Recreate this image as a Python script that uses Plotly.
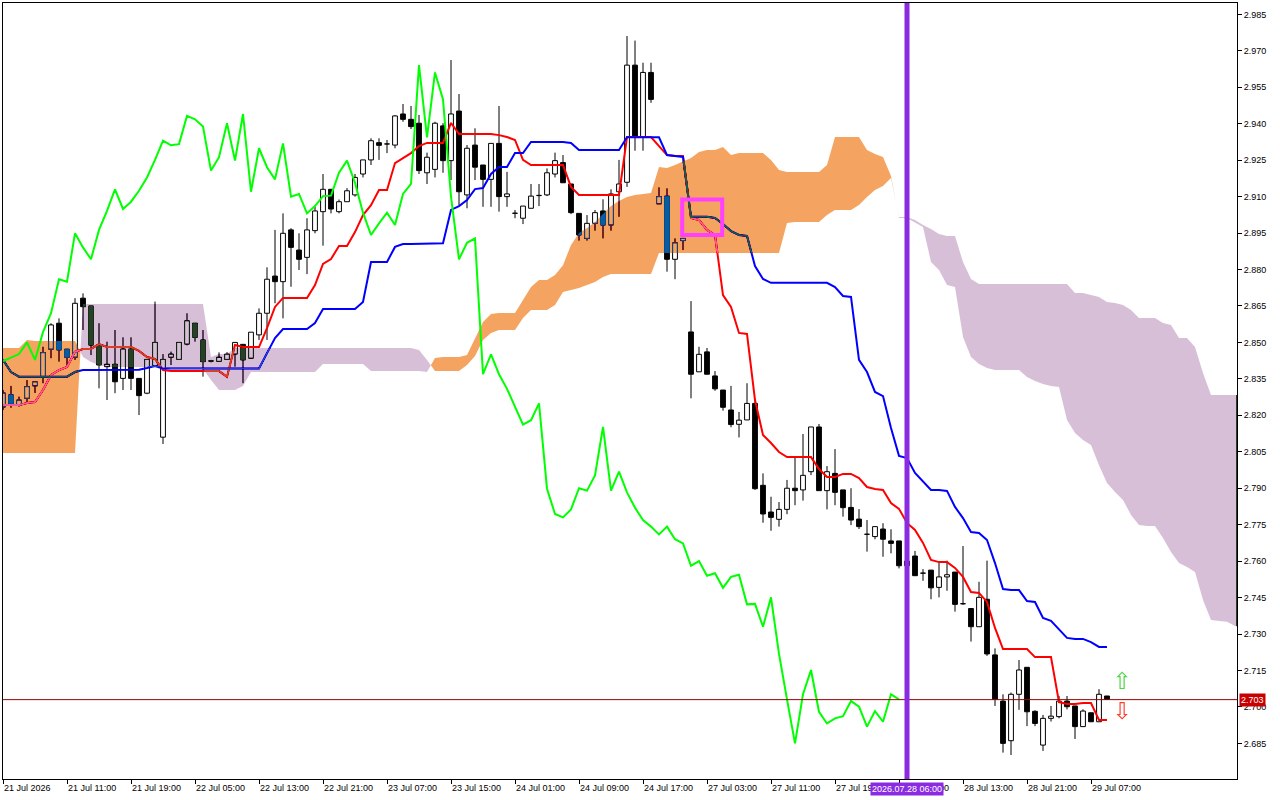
import plotly.graph_objects as go

# H1 candles, bar 0 = 21 Jul 2026 03:00 (weekend gap between bar 81 and 82)
opens = [2.8234, 2.8284, 2.8242, 2.8270, 2.8321, 2.8359, 2.8472, 2.8579, 2.8472, 2.8439,
         2.8682, 2.8650, 2.8489, 2.8400, 2.8410, 2.8352, 2.8473, 2.8352, 2.8291, 2.8403,
         2.8110, 2.8439, 2.8430, 2.8493, 2.8579, 2.8510, 2.8423, 2.8422, 2.8430, 2.8452,
         2.8492, 2.8435, 2.8531, 2.8620, 2.8773, 2.8750, 2.8963, 2.8880, 2.8850, 2.8960,
         2.9038, 2.9130, 2.9038, 2.9079, 2.9107, 2.9193, 2.9251, 2.9322, 2.9316, 2.9312,
         2.9440, 2.9418, 2.9402, 2.9198, 2.9212, 2.9391, 2.9248, 2.9452, 2.9107, 2.9312,
         2.9230, 2.9171, 2.9319, 2.9100, 2.9031, 2.9011, 2.9052, 2.9104, 2.9107, 2.9193,
         2.9240, 2.9152, 2.9031, 2.8928, 2.8990, 2.9041, 2.8983, 2.9120, 2.9159, 2.9641,
         2.9344, 2.9611, 2.9070, 2.9102, 2.8842, 2.8919, 2.8543, 2.8379, 2.8461, 2.8362,
         2.8304, 2.8222, 2.8163, 2.8181, 2.8249, 2.7912, 2.7802, 2.7772, 2.7813, 2.7900,
         2.7893, 2.7968, 2.8152, 2.7890, 2.7961, 2.7893, 2.7821, 2.7773, 2.7710, 2.7701,
         2.7732, 2.7683, 2.7683, 2.7581, 2.7621, 2.7550, 2.7563, 2.7492, 2.7535, 2.7555,
         2.7424, 2.7405, 2.7330, 2.7443, 2.7214, 2.7024, 2.6861, 2.7052, 2.7163, 2.6982,
         2.6843, 2.6953, 2.6960, 2.7024, 2.7004, 2.6919, 2.6976, 2.6939, 2.7045]
highs = [2.8304, 2.8321, 2.8277, 2.8345, 2.8338, 2.8482, 2.8579, 2.8599, 2.8472, 2.8682,
         2.8702, 2.8650, 2.8579, 2.8503, 2.8551, 2.8521, 2.8521, 2.8352, 2.8430, 2.8668,
         2.8452, 2.8462, 2.8500, 2.8620, 2.8579, 2.8551, 2.8428, 2.8459, 2.8460, 2.8500,
         2.8492, 2.8542, 2.8640, 2.8809, 2.8963, 2.9031, 2.8970, 2.8949, 2.9011, 2.9058,
         2.9193, 2.9130, 2.9088, 2.9135, 2.9193, 2.9251, 2.9340, 2.9340, 2.9333, 2.9435,
         2.9481, 2.9473, 2.9436, 2.9281, 2.9408, 2.9402, 2.9662, 2.9522, 2.9312, 2.9381,
         2.9230, 2.9319, 2.9473, 2.9202, 2.9045, 2.9061, 2.9152, 2.9152, 2.9216, 2.9281,
         2.9271, 2.9152, 2.9031, 2.9024, 2.9045, 2.9089, 2.9130, 2.9251, 2.9761, 2.9742,
         2.9651, 2.9651, 2.9138, 2.9134, 2.8928, 2.8928, 2.8670, 2.8482, 2.8477, 2.8382,
         2.8304, 2.8321, 2.8214, 2.8332, 2.8263, 2.7961, 2.7865, 2.7843, 2.7934, 2.8026,
         2.8123, 2.8152, 2.8164, 2.7991, 2.8061, 2.7893, 2.7900, 2.7814, 2.7769, 2.7742,
         2.7756, 2.7731, 2.7683, 2.7620, 2.7642, 2.7567, 2.7563, 2.7594, 2.7602, 2.7555,
         2.7662, 2.7405, 2.7515, 2.7602, 2.7241, 2.7052, 2.7059, 2.7193, 2.7163, 2.6986,
         2.6967, 2.7004, 2.7045, 2.7045, 2.7004, 2.6990, 2.6976, 2.7073, 2.7045]
lows = [2.8222, 2.8231, 2.8236, 2.8251, 2.8292, 2.8332, 2.8435, 2.8421, 2.8407, 2.8428,
        2.8551, 2.8448, 2.8311, 2.8263, 2.8291, 2.8304, 2.8304, 2.8201, 2.8287, 2.8400,
        2.8082, 2.8407, 2.8429, 2.8488, 2.8503, 2.8359, 2.8418, 2.8422, 2.8430, 2.8400,
        2.8332, 2.8432, 2.8510, 2.8510, 2.8661, 2.8599, 2.8729, 2.8798, 2.8781, 2.8949,
        2.8898, 2.9031, 2.9031, 2.9079, 2.9100, 2.9179, 2.9230, 2.9251, 2.9279, 2.9299,
        2.9408, 2.9378, 2.9193, 2.9152, 2.9179, 2.9198, 2.9168, 2.9065, 2.9052, 2.9168,
        2.9058, 2.9058, 2.9038, 2.9058, 2.9011, 2.8987, 2.9052, 2.9061, 2.9102, 2.9179,
        2.9157, 2.9028, 2.8919, 2.8919, 2.8960, 2.8928, 2.8960, 2.9017, 2.9140, 2.9289,
        2.9289, 2.9486, 2.9070, 2.8791, 2.8760, 2.8880, 2.8270, 2.8379, 2.8369, 2.8301,
        2.8219, 2.8151, 2.8109, 2.8181, 2.7893, 2.7758, 2.7725, 2.7742, 2.7793, 2.7830,
        2.7849, 2.7954, 2.7890, 2.7813, 2.7830, 2.7783, 2.7748, 2.7732, 2.7639, 2.7690,
        2.7618, 2.7632, 2.7570, 2.7565, 2.7540, 2.7519, 2.7443, 2.7451, 2.7478, 2.7392,
        2.7420, 2.7269, 2.7330, 2.7210, 2.7004, 2.6812, 2.6802, 2.6988, 2.6921, 2.6921,
        2.6819, 2.6940, 2.6953, 2.6990, 2.6868, 2.6919, 2.6939, 2.6939, 2.7031]
closes = [2.8292, 2.8247, 2.8263, 2.8318, 2.8338, 2.8458, 2.8572, 2.8469, 2.8439, 2.8661,
          2.8647, 2.8489, 2.8407, 2.8410, 2.8338, 2.8473, 2.8352, 2.8281, 2.8430, 2.8500,
          2.8430, 2.8452, 2.8500, 2.8589, 2.8521, 2.8421, 2.8423, 2.8439, 2.8452, 2.8500,
          2.8428, 2.8542, 2.8620, 2.8760, 2.8750, 2.8949, 2.8891, 2.8842, 2.8963, 2.9041,
          2.9130, 2.9049, 2.9079, 2.9124, 2.9179, 2.9251, 2.9330, 2.9311, 2.9316, 2.9432,
          2.9418, 2.9388, 2.9207, 2.9262, 2.9402, 2.9248, 2.9440, 2.9120, 2.9299, 2.9221,
          2.9171, 2.9319, 2.9100, 2.9111, 2.9031, 2.9061, 2.9102, 2.9104, 2.9198, 2.9248,
          2.9157, 2.9034, 2.8942, 2.8990, 2.9034, 2.8983, 2.9111, 2.9152, 2.9641, 2.9344,
          2.9611, 2.9500, 2.9100, 2.8842, 2.8910, 2.8928, 2.8369, 2.8451, 2.8369, 2.8309,
          2.8233, 2.8162, 2.8180, 2.8249, 2.7898, 2.7794, 2.7780, 2.7813, 2.7900, 2.7890,
          2.7953, 2.8152, 2.7890, 2.7968, 2.7883, 2.7820, 2.7769, 2.7742, 2.7710, 2.7742,
          2.7690, 2.7673, 2.7581, 2.7600, 2.7540, 2.7550, 2.7490, 2.7535, 2.7544, 2.7422,
          2.7424, 2.7330, 2.7451, 2.7218, 2.7031, 2.6850, 2.7052, 2.7152, 2.6980, 2.6932,
          2.6953, 2.6962, 2.7024, 2.7001, 2.6919, 2.6983, 2.6939, 2.7052, 2.7031]

# Ichimoku lines as shown on the chart (per bar)
tenkan = [2.8242, 2.8242, 2.8242, 2.8251, 2.8255, 2.8304, 2.8366, 2.8386, 2.8399, 2.8461,
          2.8473, 2.8473, 2.8493, 2.8481, 2.8481, 2.8481, 2.8481, 2.8465, 2.8440, 2.8432,
          2.8386, 2.8382, 2.8382, 2.8382, 2.8382, 2.8382, 2.8382, 2.8382, 2.8358, 2.8489,
          2.8481, 2.8481, 2.8481, 2.8559, 2.8646, 2.8683, 2.8683, 2.8683, 2.8683, 2.8736,
          2.8823, 2.8843, 2.8897, 2.8897, 2.8954, 2.9024, 2.9065, 2.9127, 2.9127, 2.9238,
          2.9259, 2.9279, 2.9308, 2.9321, 2.9321, 2.9321, 2.9403, 2.9358, 2.9358, 2.9358,
          2.9358, 2.9358, 2.9353, 2.9345, 2.9333, 2.9251, 2.9230, 2.9230, 2.9230, 2.9230,
          2.9230, 2.9140, 2.9107, 2.9107, 2.9107, 2.9107, 2.9107, 2.9107, 2.9345, 2.9345,
          2.9345, 2.9345, 2.9308, 2.9271, 2.9267, 2.9267, 2.9012, 2.9004, 2.8963, 2.8942,
          2.8695, 2.8646, 2.8539, 2.8535, 2.8263, 2.8119, 2.8086, 2.8049, 2.8028, 2.8028,
          2.8028, 2.8028, 2.7979, 2.7946, 2.7946, 2.7959, 2.7959, 2.7942, 2.7905, 2.7897,
          2.7893, 2.7839, 2.7815, 2.7757, 2.7728, 2.7675, 2.7605, 2.7596, 2.7596, 2.7572,
          2.7535, 2.7473, 2.7469, 2.7432, 2.7325, 2.7238, 2.7238, 2.7238, 2.7238, 2.7205,
          2.7205, 2.7205, 2.7020, 2.7012, 2.7012, 2.7016, 2.7016, 2.6946, 2.6946]
kijun = [2.8428, 2.8378, 2.8359, 2.8359, 2.8359, 2.8359, 2.8359, 2.8359, 2.8359, 2.8378,
         2.8386, 2.8386, 2.8386, 2.8386, 2.8386, 2.8386, 2.8388, 2.8388, 2.8395, 2.8403,
         2.8393, 2.8393, 2.8393, 2.8393, 2.8393, 2.8393, 2.8393, 2.8393, 2.8393, 2.8393,
         2.8393, 2.8393, 2.8393, 2.8456, 2.8518, 2.8555, 2.8555, 2.8555, 2.8555, 2.8580,
         2.8637, 2.8637, 2.8637, 2.8637, 2.8637, 2.8666, 2.8831, 2.8831, 2.8831, 2.8893,
         2.8905, 2.8905, 2.8905, 2.8908, 2.8908, 2.8908, 2.9045, 2.9061, 2.9086, 2.9131,
         2.9135, 2.9193, 2.9222, 2.9222, 2.9279, 2.9279, 2.9325, 2.9325, 2.9325, 2.9325,
         2.9325, 2.9321, 2.9292, 2.9292, 2.9292, 2.9292, 2.9292, 2.9292, 2.9344, 2.9344,
         2.9344, 2.9344, 2.9344, 2.9271, 2.9267, 2.9263, 2.9017, 2.9017, 2.9017, 2.9012,
         2.8987, 2.8958, 2.8942, 2.8938, 2.8814, 2.8761, 2.8745, 2.8745, 2.8745, 2.8745,
         2.8745, 2.8745, 2.8745, 2.8745, 2.8728, 2.8691, 2.8687, 2.8428, 2.8378, 2.8296,
         2.8279, 2.8148, 2.8033, 2.8024, 2.7963, 2.7926, 2.7893, 2.7893, 2.7889, 2.7823,
         2.7777, 2.7720, 2.7716, 2.7687, 2.7592, 2.7485, 2.7481, 2.7481, 2.7436, 2.7432,
         2.7366, 2.7354, 2.7317, 2.7284, 2.7280, 2.7280, 2.7267, 2.7247, 2.7247]
# Senkou spans, already plotted 26 bars ahead (bars 0..155)
senkou_a = [2.8477, 2.8477, 2.8477, 2.8510, 2.8506, 2.8506, 2.8506, 2.8506, 2.8506, 2.8506,
            2.8440, 2.8419, 2.8407, 2.8399, 2.8399, 2.8399, 2.8399, 2.8399, 2.8399, 2.8399,
            2.8399, 2.8391, 2.8391, 2.8391, 2.8391, 2.8391, 2.8345, 2.8304, 2.8304, 2.8304,
            2.8321, 2.8378, 2.8378, 2.8378, 2.8378, 2.8378, 2.8378, 2.8378, 2.8378, 2.8378,
            2.8411, 2.8411, 2.8411, 2.8411, 2.8411, 2.8411, 2.8382, 2.8382, 2.8382, 2.8382,
            2.8382, 2.8382, 2.8382, 2.8378, 2.8436, 2.8440, 2.8440, 2.8440, 2.8448, 2.8518,
            2.8584, 2.8617, 2.8621, 2.8621, 2.8621, 2.8675, 2.8728, 2.8757, 2.8757, 2.8777,
            2.8818, 2.8901, 2.8950, 2.8971, 2.8995, 2.9028, 2.9061, 2.9082, 2.9098, 2.9107,
            2.9111, 2.9115, 2.9222, 2.9218, 2.9230, 2.9246, 2.9259, 2.9284, 2.9292, 2.9292,
            2.9304, 2.9271, 2.9279, 2.9279, 2.9279, 2.9279, 2.9251, 2.9209, 2.9201, 2.9201,
            2.9201, 2.9201, 2.9201, 2.9230, 2.9345, 2.9345, 2.9345, 2.9345, 2.9292, 2.9275,
            2.9263, 2.9185, 2.9012, 2.9012, 2.8995, 2.8975, 2.8831, 2.8798, 2.8736, 2.8728,
            2.8522, 2.8440, 2.8411, 2.8395, 2.8386, 2.8386, 2.8386, 2.8386, 2.8358, 2.8341,
            2.8329, 2.8321, 2.8317, 2.8181, 2.8127, 2.8098, 2.8078, 2.7995, 2.7921, 2.7884,
            2.7852, 2.7790, 2.7749, 2.7745, 2.7745, 2.7695, 2.7638, 2.7592, 2.7576, 2.7555,
            2.7440, 2.7358, 2.7354, 2.7350, 2.7333, 2.7329]
senkou_b = [2.8045, 2.8045, 2.8045, 2.8045, 2.8045, 2.8045, 2.8045, 2.8045, 2.8045, 2.8045,
            2.8658, 2.8658, 2.8658, 2.8658, 2.8658, 2.8658, 2.8658, 2.8658, 2.8658, 2.8658,
            2.8658, 2.8658, 2.8658, 2.8658, 2.8658, 2.8658, 2.8440, 2.8452, 2.8452, 2.8477,
            2.8477, 2.8477, 2.8477, 2.8477, 2.8477, 2.8477, 2.8477, 2.8477, 2.8477, 2.8477,
            2.8477, 2.8477, 2.8477, 2.8477, 2.8477, 2.8477, 2.8477, 2.8477, 2.8477, 2.8477,
            2.8477, 2.8477, 2.8469, 2.8428, 2.8382, 2.8382, 2.8382, 2.8382, 2.8407, 2.8444,
            2.8510, 2.8539, 2.8551, 2.8551, 2.8551, 2.8600, 2.8633, 2.8633, 2.8633, 2.8654,
            2.8707, 2.8716, 2.8724, 2.8736, 2.8749, 2.8769, 2.8782, 2.8782, 2.8782, 2.8782,
            2.8782, 2.8782, 2.8868, 2.8868, 2.8868, 2.8868, 2.8868, 2.8868, 2.8868, 2.8868,
            2.8868, 2.8868, 2.8868, 2.8868, 2.8868, 2.8868, 2.8868, 2.8868, 2.8991, 2.8995,
            2.8995, 2.8995, 2.8995, 2.9024, 2.9045, 2.9045, 2.9045, 2.9065, 2.9098, 2.9127,
            2.9144, 2.9177, 2.9016, 2.9016, 2.9004, 2.8983, 2.8967, 2.8946, 2.8938, 2.8938,
            2.8831, 2.8761, 2.8740, 2.8740, 2.8740, 2.8740, 2.8740, 2.8740, 2.8740, 2.8740,
            2.8740, 2.8740, 2.8740, 2.8740, 2.8703, 2.8703, 2.8695, 2.8687, 2.8666, 2.8662,
            2.8654, 2.8633, 2.8600, 2.8600, 2.8600, 2.8580, 2.8572, 2.8518, 2.8518, 2.8481,
            2.8374, 2.8284, 2.8284, 2.8284, 2.8284, 2.8284]

tick_bars = [0, 8, 16, 24, 32, 40, 48, 56, 64, 72, 80, 88, 96, 104, 112, 120, 128, 136]
tick_labels = ["21 Jul 2026", "21 Jul 11:00", "21 Jul 19:00", "22 Jul 05:00",
               "22 Jul 13:00", "22 Jul 21:00", "23 Jul 07:00", "23 Jul 15:00",
               "24 Jul 01:00", "24 Jul 09:00", "24 Jul 17:00", "27 Jul 03:00",
               "27 Jul 11:00", "27 Jul 19:00", "28 Jul 05:00", "28 Jul 13:00",
               "28 Jul 21:00", "29 Jul 07:00"]

last_price = 2.703
vline_bar = 113
vline_label = "2026.07.28 06:00"
box_bars = [84.9, 89.9]
box_prices = [2.8942, 2.9088]
arrow_bar = 139.9
arrow_up_price = 2.7096
arrow_down_price = 2.6975
chikou_shift = 26

n = len(closes)
bars = list(range(n))

# candle bodies
bull = [i for i in bars if closes[i] >= opens[i]]
bear = [i for i in bars if closes[i] < opens[i]]


def body(ids):
    base = [min(opens[i], closes[i]) for i in ids]
    size = [max(abs(closes[i] - opens[i]), 0.00012) for i in ids]
    return base, size


bull_base, bull_size = body(bull)
bear_base, bear_size = body(bear)

# wicks stop at the body so hollow candles stay empty
wick_x, wick_y = [], []
for i in bars:
    top = max(opens[i], closes[i])
    bot = min(opens[i], closes[i])
    wick_x += [i, i, None, i, i, None]
    wick_y += [highs[i], top, None, bot, lows[i], None]


def cloud(a, b, a_on_top):
    # polygons between the spans where the sign of a-b matches
    xs, ys = [], []
    m = len(a)

    def cross(k):
        d0 = a[k] - b[k]
        d1 = a[k + 1] - b[k + 1]
        t = d0 / (d0 - d1)
        return k + t, a[k] + t * (a[k + 1] - a[k])

    i = 0
    while i < m:
        if (a[i] > b[i]) != a_on_top:
            i += 1
            continue
        s = i
        while i < m and (a[i] > b[i]) == a_on_top:
            i += 1
        e = i - 1
        px, py = [], []
        if s > 0:
            cx, cy = cross(s - 1)
            px.append(cx)
            py.append(cy)
        px += list(range(s, e + 1))
        py += a[s:e + 1]
        if e < m - 1:
            cx, cy = cross(e)
            px.append(cx)
            py.append(cy)
        px += list(range(e, s - 1, -1))
        py += b[s:e + 1][::-1]
        xs += px + [None]
        ys += py + [None]
    return xs, ys


up_x, up_y = cloud(senkou_a, senkou_b, True)
dn_x, dn_y = cloud(senkou_a, senkou_b, False)

fig = go.Figure()

fig.add_trace(go.Bar(x=bull, y=bull_size, base=bull_base, width=0.6,
                     marker=dict(color="white", line=dict(color="black", width=1))))
fig.add_trace(go.Bar(x=bear, y=bear_size, base=bear_base, width=0.6,
                     marker=dict(color="black", line=dict(color="black", width=1))))
fig.add_trace(go.Scatter(x=wick_x, y=wick_y, mode="lines",
                         line=dict(color="black", width=1)))

fig.add_trace(go.Scatter(x=bars, y=tenkan, mode="lines", line=dict(color="#FF0000", width=2)))
fig.add_trace(go.Scatter(x=bars, y=kijun, mode="lines", line=dict(color="#0000FF", width=2)))

# cloud colours are inverted: the fills are blended with "difference" (like MT's XOR)
fig.add_trace(go.Scatter(x=up_x, y=up_y, mode="lines", fill="toself",
                         fillcolor="rgb(11,91,159)", line=dict(width=0, color="rgba(0,0,0,0)")))
fig.add_trace(go.Scatter(x=dn_x, y=dn_y, mode="lines", fill="toself",
                         fillcolor="rgb(39,64,39)", line=dict(width=0, color="rgba(0,0,0,0)")))

fig.add_trace(go.Scatter(x=bars[:n - chikou_shift], y=closes[chikou_shift:], mode="lines",
                         line=dict(color="#00FF00", width=2)))

fig.add_trace(go.Scatter(x=[arrow_bar], y=[arrow_up_price], mode="text", text=["⇧"],
                         textfont=dict(family="DejaVu Sans", size=23, color="#4CD640")))
fig.add_trace(go.Scatter(x=[arrow_bar], y=[arrow_down_price], mode="text", text=["⇩"],
                         textfont=dict(family="DejaVu Sans", size=23, color="#FF3B2A")))

fig.add_shape(type="line", xref="paper", x0=0, x1=1, y0=last_price, y1=last_price,
              line=dict(color="#9A0000", width=1))
fig.add_shape(type="line", yref="paper", x0=vline_bar, x1=vline_bar, y0=0, y1=1,
              line=dict(color="#8A2BE2", width=5))
fig.add_shape(type="rect", x0=box_bars[0], x1=box_bars[1], y0=box_prices[0], y1=box_prices[1],
              line=dict(color="#FF40FF", width=4))

fig.add_annotation(xref="paper", x=1, y=last_price, xanchor="left", xshift=2,
                   text=f"{last_price:.3f}", showarrow=False, bgcolor="#C80000",
                   font=dict(color="white", size=9), borderpad=1)
fig.add_annotation(x=vline_bar, yref="paper", y=0, yanchor="top", yshift=-3,
                   text=vline_label, showarrow=False, bgcolor="#8A2BE2",
                   font=dict(color="white", size=9), borderpad=1)

fig.update_layout(
    width=1280, height=800,
    margin=dict(l=3, r=43, t=3, b=21),
    paper_bgcolor="white", plot_bgcolor="white",
    showlegend=False, barmode="overlay",
    font=dict(family="Liberation Sans", size=9, color="black"),
    xaxis=dict(range=[0, 154.25], tickvals=tick_bars, ticktext=tick_labels,
               ticks="outside", ticklen=4, tickcolor="black", ticklabelposition="outside right",
               showgrid=False, zeroline=False, showline=True, linecolor="black",
               linewidth=1, mirror=True),
    yaxis=dict(side="right", range=[2.67034, 2.98967], tick0=2.685, dtick=0.015,
               tickformat=".3f", ticks="outside", ticklen=4, tickcolor="black",
               showgrid=False, zeroline=False, showline=True, linecolor="black",
               linewidth=1, mirror=True),
)

# the clipped trace group is its own blend group, so give it a white backdrop first
blend_js = """
document.body.style.margin = '0';
var gd = document.querySelector('.plotly-graph-div');
var bars = gd.querySelector('.barlayer');
if (bars && bars.parentNode) {
    var holder = bars.parentNode;
    var sz = gd._fullLayout._size;
    var bg = document.createElementNS('http://www.w3.org/2000/svg', 'rect');
    bg.setAttribute('x', 0);
    bg.setAttribute('y', 0);
    bg.setAttribute('width', sz.w);
    bg.setAttribute('height', sz.h);
    bg.setAttribute('fill', 'white');
    holder.insertBefore(bg, holder.firstChild);
}
gd.querySelectorAll('.scatterlayer path.js-fill').forEach(function (p) {
    p.style.mixBlendMode = 'difference';
});
"""

fig.write_html("out.html", post_script=blend_js, config={"displayModeBar": False})
